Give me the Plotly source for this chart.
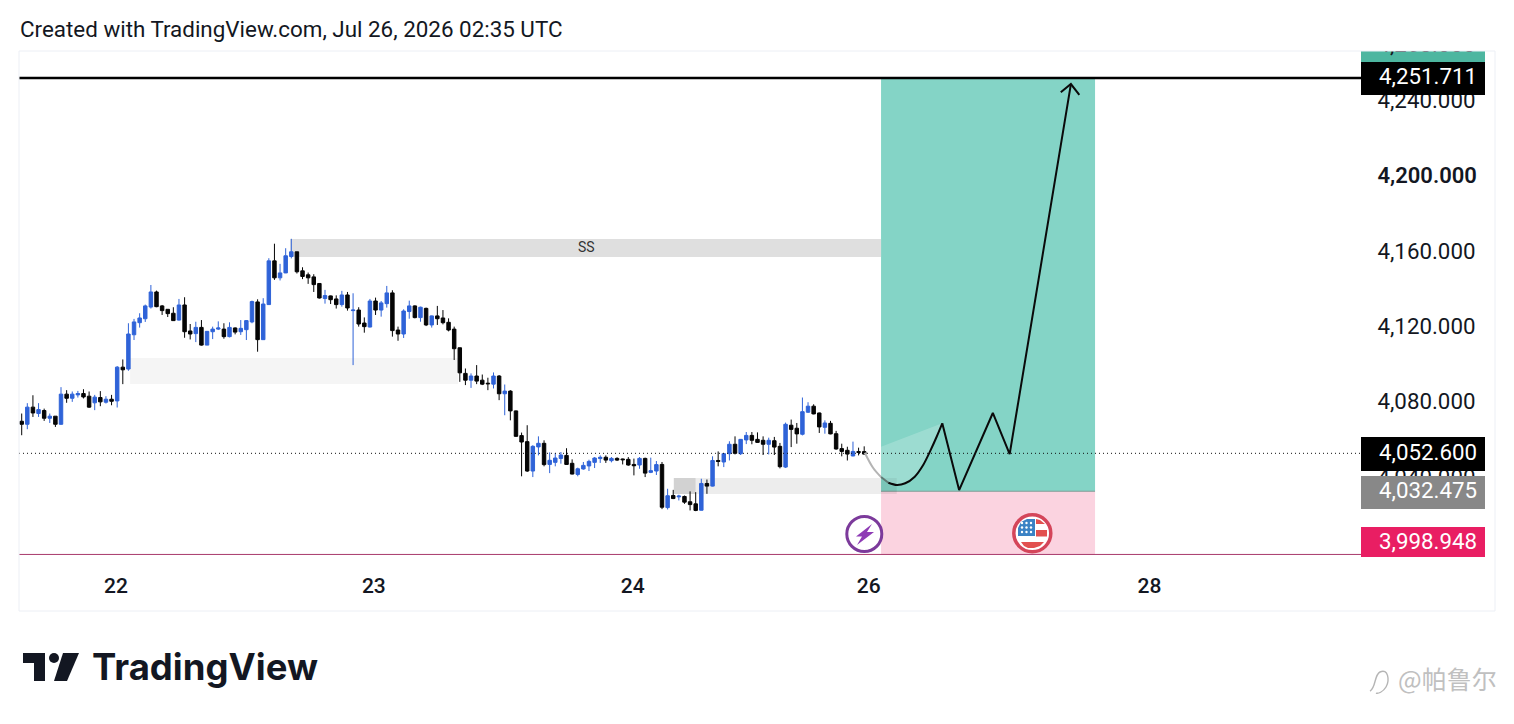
import plotly.graph_objects as go

# ---------- values ----------
opens = [4069.1,4067.5,4076.6,4073.2,4074.8,4070.7,4071.8,4067.5,4083.5,4081.3,
4083.1,4083.8,4082.4,4078.9,4081.7,4079.2,4080.8,4079.9,4097.8,4096.8,
4115.0,4121.4,4123.5,4129.7,4137.7,4130.3,4128.5,4126.4,4122.8,4130.8,
4117.0,4115.6,4118.9,4109.5,4116.6,4118.0,4118.0,4114.0,4118.6,4116.6,
4117.7,4121.8,4132.4,4112.4,4131.0,4154.2,4145.2,4147.8,4156.5,4159.0,
4148.9,4146.8,4145.7,4142.2,4134.2,4135.6,4134.0,4131.0,4136.1,4127.8,
4128.1,4121.2,4119.1,4132.9,4128.1,4131.5,4137.2,4117.5,4115.4,4127.3,
4130.3,4124.1,4129.0,4120.2,4125.0,4123.9,4121.6,4118.0,4108.1,4094.5,
4090.9,4093.1,4090.9,4089.3,4088.8,4093.1,4083.7,4085.1,4074.6,4061.5,
4058.3,4042.7,4055.5,4057.4,4046.2,4047.3,4049.4,4051.0,4046.8,4040.9,
4043.8,4045.4,4047.3,4049.3,4050.0,4048.2,4049.4,4049.1,4048.9,4046.2,
4045.9,4049.4,4042.0,4042.7,4046.2,4023.3,4029.7,4029.0,4029.2,4026.4,
4025.3,4021.9,4036.1,4034.7,4048.3,4047.5,4051.9,4056.9,4051.9,4059.2,
4061.6,4059.5,4059.0,4056.9,4058.8,4055.8,4044.8,4067.0,4065.4,4062.2,
4073.9,4077.1,4073.5,4065.9,4068.0,4062.5,4054.6,4053.7,4050.7,4053.0,4053.0]
highs = [4073.2,4078.7,4082.9,4078.7,4075.8,4073.2,4071.8,4087.2,4085.6,4084.9,
4085.2,4086.1,4084.9,4083.1,4085.1,4082.4,4083.1,4098.4,4101.9,4121.1,
4123.4,4126.4,4131.0,4141.4,4138.4,4130.8,4128.5,4129.6,4134.0,4134.9,
4120.7,4121.9,4122.8,4117.0,4119.3,4122.1,4121.1,4121.6,4118.9,4122.8,
4122.8,4133.1,4133.8,4134.4,4155.6,4163.3,4152.6,4160.9,4165.9,4159.0,
4150.8,4148.0,4147.1,4142.3,4138.8,4135.8,4135.9,4138.3,4137.7,4137.0,
4129.6,4124.2,4134.0,4134.7,4132.9,4140.9,4138.6,4119.3,4128.5,4133.1,
4130.6,4129.9,4129.4,4125.2,4130.3,4128.1,4123.7,4119.3,4108.1,4097.1,
4094.5,4098.9,4093.9,4092.2,4095.0,4093.6,4088.6,4085.6,4074.8,4063.1,
4067.0,4056.4,4061.1,4059.0,4052.6,4052.3,4052.8,4054.8,4048.9,4044.5,
4047.5,4048.7,4050.1,4051.0,4051.0,4050.1,4050.0,4049.3,4050.1,4049.3,
4050.1,4049.8,4049.8,4048.0,4047.5,4033.3,4032.7,4030.1,4029.7,4031.9,
4031.5,4038.6,4038.2,4050.5,4053.1,4052.2,4058.5,4061.1,4059.7,4063.4,
4063.4,4063.2,4061.1,4060.4,4060.8,4057.6,4068.4,4070.0,4068.2,4081.7,
4079.2,4078.1,4073.7,4069.6,4069.3,4064.0,4057.2,4055.6,4058.3,4055.1,4055.8]
lows = [4061.7,4064.9,4071.4,4071.4,4069.3,4068.2,4066.1,4067.2,4078.9,4079.4,
4081.7,4081.2,4076.2,4075.0,4077.1,4078.5,4077.6,4076.4,4088.8,4095.9,
4112.2,4118.8,4121.8,4128.9,4129.6,4125.5,4124.4,4122.3,4122.5,4113.4,
4112.5,4111.1,4109.2,4109.5,4112.7,4117.5,4112.9,4113.6,4115.2,4114.9,
4112.2,4121.1,4106.0,4112.2,4130.8,4144.1,4143.8,4147.7,4155.5,4147.5,
4144.5,4142.0,4137.7,4134.2,4131.5,4131.3,4128.9,4129.9,4127.8,4098.9,
4119.3,4116.1,4118.9,4125.5,4124.6,4129.4,4114.0,4111.8,4113.3,4123.5,
4123.7,4121.9,4119.6,4118.8,4120.2,4120.5,4116.8,4101.6,4090.0,4088.3,
4086.8,4088.8,4088.3,4085.6,4086.5,4080.3,4072.3,4069.6,4060.8,4039.9,
4042.2,4039.5,4051.0,4045.2,4041.6,4045.2,4046.6,4045.9,4040.9,4039.9,
4043.4,4042.7,4044.3,4047.0,4047.0,4047.3,4048.0,4046.2,4045.5,4040.4,
4043.9,4039.5,4041.6,4040.6,4022.5,4022.3,4027.8,4027.1,4025.3,4021.8,
4021.4,4021.8,4030.6,4034.5,4045.2,4044.8,4048.3,4051.5,4051.2,4057.0,
4056.9,4057.7,4051.2,4051.5,4051.2,4044.1,4044.3,4055.4,4057.2,4061.6,
4073.5,4072.8,4062.9,4062.5,4062.2,4054.0,4050.5,4048.3,4050.5,4051.0,4051.2]
closes = [4067.5,4076.6,4073.5,4075.3,4070.7,4071.8,4067.5,4083.5,4081.3,4083.5,
4083.8,4082.0,4076.6,4081.9,4079.4,4080.8,4079.7,4097.8,4096.4,4115.4,
4121.8,4123.9,4130.3,4137.7,4129.9,4127.8,4126.2,4122.5,4130.8,4116.6,
4115.4,4118.9,4109.5,4116.8,4118.0,4118.6,4114.0,4118.9,4116.4,4118.4,
4122.5,4132.6,4112.4,4131.3,4154.2,4145.2,4147.8,4156.9,4159.0,4148.4,
4145.9,4145.2,4141.6,4134.5,4135.8,4133.6,4131.0,4136.1,4129.2,4128.1,
4120.7,4119.3,4132.9,4128.1,4131.9,4137.2,4117.2,4115.4,4127.6,4130.3,
4124.1,4129.6,4120.2,4125.0,4123.5,4121.4,4117.5,4107.6,4094.8,4090.9,
4093.1,4090.4,4088.8,4089.0,4093.1,4083.7,4085.1,4074.6,4061.1,4058.1,
4042.7,4055.8,4057.4,4046.1,4048.4,4049.6,4051.2,4046.2,4041.1,4043.9,
4045.7,4047.8,4049.6,4050.0,4048.5,4049.4,4048.5,4048.7,4045.9,4045.5,
4049.4,4041.6,4042.9,4046.1,4023.5,4029.6,4028.1,4029.4,4026.2,4024.9,
4021.8,4036.1,4034.7,4048.3,4047.8,4051.9,4056.9,4052.1,4059.5,4061.6,
4059.0,4057.9,4056.9,4059.0,4055.4,4045.0,4067.5,4064.8,4062.4,4074.2,
4077.1,4073.0,4066.1,4068.2,4062.4,4054.4,4053.1,4051.7,4053.1,4052.6,4051.7]
READ_CAL = 0.5   # pixel-reading calibration against the labelled price lines

target_price = 4251.711
last_price = 4052.600
entry_price = 4032.475
stop_price = 3998.948

y_tick_vals = [4269.5, 4240, 4200, 4160, 4120, 4080, 4040]
y_tick_text = ["4,268.000", "4,240.000", '<span style="font-weight:600;font-size:22px">4,200.000</span>', "4,160.000", "4,120.000", "4,080.000", "4,040.000"]
x_tick_vals = [16.8, 62.7, 108.8, 150.8, 200.8]
x_tick_text = ["22", "23", "24", "26", "28"]

# drawn projection
curve_grey_x = [150.1, 151.6, 153.0]
curve_grey_y = [4052.9, 4044.8, 4040.0]
curve_mid_x = [153.0, 154.3]
curve_mid_y = [4040.0, 4037.0]
curve_x = [154.3, 155.8, 157.3, 159.0, 160.5, 161.7, 162.9, 163.9]
curve_y = [4037.0, 4035.8, 4036.7, 4040.2, 4046.4, 4053.5, 4061.4, 4068.5]
zig_x = [163.9, 166.9, 172.9, 175.9, 186.8]
zig_y = [4068.5, 4033.1, 4074.0, 4052.2, 4248.5]
head_x = [185.0, 186.8, 188.3]
head_y = [4244.1, 4248.5, 4242.7]
wedge_x = [153.0, 163.9, 162.9, 161.7, 160.5, 159.0, 157.3, 155.8, 154.3, 153.0]
wedge_y = [4056.1, 4068.5, 4061.4, 4053.5, 4046.4, 4040.2, 4036.7, 4035.8, 4037.0, 4040.0]

# ---------- layout geometry ----------
W, H = 1514, 724
L, R, T, B = 19, 1361, 36, 565
X_RANGE = [-0.48, 238.45]
Y_RANGE = [3993.35, 4273.99]

def X(px):
    return (px - L) / (R - L)

def Y(py):
    return (B - py) / (B - T)

def rect(x0, y0, x1, y1, color, layer="below", line=None):
    return dict(type="rect", xref="paper", yref="paper", x0=X(x0), x1=X(x1), y0=Y(y0), y1=Y(y1),
                fillcolor=color, line=line or dict(width=0), layer=layer)

def poly(points, color, layer="above"):
    d = "M " + " L ".join(f"{X(a):.5f},{Y(b):.5f}" for a, b in points) + " Z"
    return dict(type="path", xref="paper", yref="paper", path=d, fillcolor=color,
                line=dict(width=0), layer=layer)

def circle(cx, cy, r, fill, line_color=None, lw=0, layer="above"):
    return dict(type="circle", xref="paper", yref="paper", x0=X(cx - r), x1=X(cx + r), y0=Y(cy + r), y1=Y(cy - r),
                fillcolor=fill, line=dict(color=line_color or fill, width=lw), layer=layer)

fig = go.Figure()

# lighter wedge of the projection
fig.add_trace(go.Scatter(x=wedge_x, y=wedge_y, mode="lines", fill="toself", fillcolor="rgba(255,255,255,0.2)",
                         line=dict(width=0), hoverinfo="skip"))

# horizontal price lines
fig.add_trace(go.Scatter(x=X_RANGE, y=[last_price] * 2, mode="lines", line=dict(color="#111", width=1, dash="1px,3px"), hoverinfo="skip"))
fig.add_trace(go.Scatter(x=X_RANGE, y=[stop_price] * 2, mode="lines", line=dict(color="#a83a6c", width=1), hoverinfo="skip"))
fig.add_trace(go.Scatter(x=X_RANGE, y=[target_price] * 2, mode="lines", line=dict(color="#000", width=2.5), hoverinfo="skip"))

# candles
fig.add_trace(go.Candlestick(
    x=list(range(len(opens))),
    open=[v + READ_CAL for v in opens], high=[v + READ_CAL for v in highs],
    low=[v + READ_CAL for v in lows], close=[v + READ_CAL for v in closes],
    increasing=dict(line=dict(color="#2f63d8", width=1), fillcolor="#2f63d8"),
    decreasing=dict(line=dict(color="#050505", width=1), fillcolor="#050505"),
    whiskerwidth=0, hoverinfo="skip"))

# projection path
fig.add_trace(go.Scatter(x=curve_grey_x, y=curve_grey_y, mode="lines", line=dict(color="#b4b4b4", width=2, shape="spline"), hoverinfo="skip"))
fig.add_trace(go.Scatter(x=curve_mid_x, y=curve_mid_y, mode="lines", line=dict(color="#5f7a74", width=2), hoverinfo="skip"))
fig.add_trace(go.Scatter(x=curve_x, y=curve_y, mode="lines", line=dict(color="#0a0a0a", width=2, shape="spline", smoothing=0.8), hoverinfo="skip"))
fig.add_trace(go.Scatter(x=zig_x, y=zig_y, mode="lines", line=dict(color="#0a0a0a", width=2), hoverinfo="skip"))
fig.add_trace(go.Scatter(x=head_x, y=head_y, mode="lines", line=dict(color="#0a0a0a", width=2), hoverinfo="skip"))

shapes = []
# position boxes
shapes.append(dict(type="rect", xref="x", yref="y", x0=153.0, x1=191.1, y0=entry_price, y1=target_price, fillcolor="#84d4c6", line=dict(width=0), layer="below"))
shapes.append(dict(type="rect", xref="x", yref="y", x0=153.0, x1=191.1, y0=stop_price, y1=entry_price, fillcolor="#fbd3e0", line=dict(width=0), layer="below"))
shapes.append(dict(type="line", xref="x", yref="y", x0=153.0, x1=191.1, y0=entry_price, y1=entry_price, line=dict(color="#7d9a94", width=1), layer="below"))
# zones
shapes.append(dict(type="rect", xref="x", yref="y", x0=47.8, x1=153.0, y0=4156.7, y1=4166.3, fillcolor="#dfdfdf", line=dict(width=0), layer="below"))
shapes.append(dict(type="rect", xref="x", yref="y", x0=19.3, x1=77.7, y0=4089.4, y1=4103.2, fillcolor="#f5f5f5", line=dict(width=0), layer="below"))
shapes.append(dict(type="rect", xref="x", yref="y", x0=120.0, x1=155.8, y0=4031.0, y1=4039.5, fillcolor="rgba(0,0,0,0.07)", line=dict(width=0), layer="below"))
shapes.append(dict(type="rect", xref="x", yref="y", x0=116.1, x1=120.0, y0=4031.0, y1=4039.5, fillcolor="#d2d2d2", line=dict(width=0), layer="below"))

# price-scale labels
shapes.append(rect(1361, 51, 1485, 63, "#4db6a0", layer="below"))
shapes.append(rect(1355, 20, 1495, 51, "#ffffff", layer="above"))
for y0, y1, col in [(62, 95, "#000000"), (437, 471, "#000000"), (476, 509, "#888888"), (527, 557, "#e91e63")]:
    shapes.append(rect(1361, y0, 1485, y1, col, layer="above"))

# outer frame
shapes.append(rect(19, 51, 1495, 611, "rgba(0,0,0,0)", layer="above", line=dict(color="#eceff5", width=1)))

# lightning badge
shapes.append(circle(864.3, 534, 17.5, "#ffffff", "#7c3a9b", 3))
shapes.append(poly([(872, 524), (856, 536.5), (862, 536.5), (857, 545), (874, 532), (867, 532)], "#8e3bb5"))

# flag badge
shapes.append(circle(1032.3, 533.3, 18.5, "#ffffff", "#d4455a", 3.5))
shapes.append(poly([(1036, 519), (1040, 520), (1045, 524), (1036, 524)], "#e2504f"))
shapes.append(poly([(1036, 530), (1047, 530), (1047, 536.5), (1036, 536.5)], "#e2504f"))
shapes.append(poly([(1021, 542), (1044, 542), (1040, 546), (1034, 548), (1028, 548), (1024, 546)], "#e2504f"))
shapes.append(poly([(1018, 528), (1021, 522), (1027, 519), (1035, 519), (1035, 536), (1018, 536)], "#3b82c4"))
for cx in (1022, 1026.5, 1031):
    for cy in (523, 527.5, 532):
        shapes.append(circle(cx, cy, 1.2, "#ffffff"))

# TradingView logo
shapes.append(poly([(23, 653), (45, 653), (45, 681), (34, 681), (34, 663), (23, 663)], "#131722"))
shapes.append(circle(54, 658, 5, "#131722"))
shapes.append(poly([(63, 653), (79, 653), (67, 681), (54, 681)], "#131722"))

# watermark fish
shapes.append(dict(type="path", xref="paper", yref="paper",
                   path=f"M {X(1370):.5f},{Y(691):.5f} C {X(1376):.5f},{Y(688):.5f} {X(1374):.5f},{Y(675):.5f} {X(1380):.5f},{Y(672):.5f} "
                        f"C {X(1388):.5f},{Y(668):.5f} {X(1390):.5f},{Y(680):.5f} {X(1386):.5f},{Y(687):.5f} C {X(1383):.5f},{Y(692):.5f} {X(1378):.5f},{Y(694):.5f} {X(1376):.5f},{Y(693):.5f}",
                   line=dict(color="#b5b5b5", width=1.4), layer="above"))

annotations = []
def note(text, px, py, size, color, anchor="left", family="Roboto", weight=None):
    f = dict(size=size, color=color, family=family)
    if weight:
        f["weight"] = weight
    annotations.append(dict(text=text, xref="paper", yref="paper", x=X(px), y=Y(py), xanchor=anchor, yanchor="middle",
                            showarrow=False, font=f, borderpad=0))

note("Created with TradingView.com, Jul 26, 2026 02:35 UTC", 18.5, 29.5, 22.4, "#131722")
note("4,251.711", 1478, 76.5, 22.3, "#ffffff", anchor="right")
note("4,052.600", 1478, 451.5, 22.3, "#ffffff", anchor="right")
note("4,032.475", 1478, 489.5, 22.3, "#ffffff", anchor="right")
note("3,998.948", 1478, 540.5, 22.3, "#ffffff", anchor="right")
note("SS", 586, 247, 14, "#333333", anchor="center")
note("TradingView", 91, 667, 36.5, "#131722", family="Inter", weight=700)
note("@帕鲁尔", 1397, 678, 25, "#c0c0c0", family="Noto Sans CJK SC")

fig.update_layout(
    width=W, height=H, autosize=False,
    margin=dict(l=L, r=W - R, t=T, b=H - B, pad=0),
    paper_bgcolor="#ffffff", plot_bgcolor="#ffffff",
    showlegend=False, boxgap=0.12, dragmode=False, hovermode=False,
    shapes=shapes, annotations=annotations,
    xaxis=dict(range=X_RANGE, rangeslider=dict(visible=False), showgrid=False, zeroline=False, showline=False,
               tickmode="array", tickvals=x_tick_vals, ticktext=x_tick_text, ticks="outside", ticklen=2,
               tickcolor="rgba(0,0,0,0)", tickfont=dict(family="Roboto", size=21, color="#131722", weight=500)),
    yaxis=dict(range=Y_RANGE, side="right", showgrid=False, zeroline=False, showline=False,
               tickmode="array", tickvals=y_tick_vals, ticktext=y_tick_text, ticks="outside", ticklen=11,
               tickcolor="rgba(0,0,0,0)", tickfont=dict(family="Roboto", size=22.3, color="#131722")),
)

fig.write_html("out.html", config=dict(displayModeBar=False, staticPlot=True),
               post_script="document.body.style.margin='0';document.body.style.overflow='hidden';")
